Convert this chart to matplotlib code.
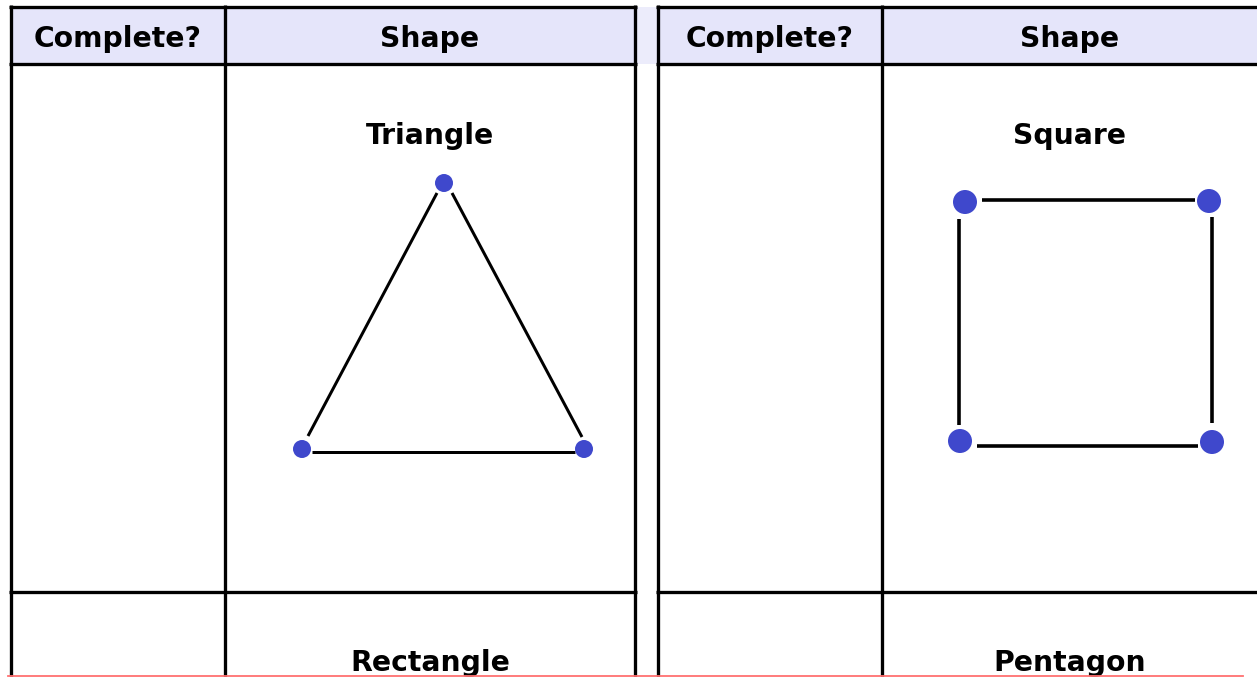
import matplotlib
matplotlib.use("Agg")
import matplotlib.pyplot as plt
from matplotlib.patches import Rectangle, Circle

W, H = 1257, 677
DPI = 100

# ---- content ----
headers = ["Complete?", "Shape"]
shape_names_row1 = ["Triangle", "Square"]
shape_names_row2 = ["Rectangle", "Pentagon"]

# table geometry (pixel space)
table_lefts = [11, 658]
table_dividers = [225, 882]
table_rights = [635, 1262]
top_y, header_y, row_y, bottom_y = 7, 64, 592, 677

# triangle: vertex dots and edge segments (pixels)
tri_dot_x = [444, 302, 584]
tri_dot_y = [183, 449, 449]
tri_edge_x0 = [437, 452, 312]
tri_edge_y0 = [193, 193, 452]
tri_edge_x1 = [308, 582, 575]
tri_edge_y1 = [436, 437, 452]

# square: vertex dots and edge segments (pixels)
sq_dot_x = [965, 1209, 960, 1212]
sq_dot_y = [202, 201, 441, 442]
sq_edge_x0 = [982, 959, 1212, 977]
sq_edge_y0 = [200, 219, 217, 446]
sq_edge_x1 = [1195, 959, 1212, 1198]
sq_edge_y1 = [200, 425, 423, 446]

LINE = "#000000"
HEAD_BG = "#E5E5FA"
GAP_BG = "#ECECFB"
DOT = "#3F48CC"
FONT = ["DejaVu Sans"]
FS = 20.3

fig = plt.figure(figsize=(W / DPI, H / DPI), dpi=DPI)
ax = fig.add_axes([0, 0, 1, 1])
ax.set_xlim(0, W)
ax.set_ylim(H, 0)
ax.axis("off")

lw = 3.3 * 72 / DPI

# header backgrounds
for i in range(2):
    ax.add_patch(Rectangle((table_lefts[i], top_y), table_rights[i] - table_lefts[i],
                           header_y - top_y, facecolor=HEAD_BG, edgecolor="none", zorder=0))
ax.add_patch(Rectangle((table_rights[0], top_y), table_lefts[1] - table_rights[0],
                       header_y - top_y, facecolor=GAP_BG, edgecolor="none", zorder=0))

for i in range(2):
    L, D, R = table_lefts[i], table_dividers[i], table_rights[i]
    for y in (top_y, header_y, row_y):
        ax.plot([L - 1.6, R + 1.6], [y, y], color=LINE, lw=lw, solid_capstyle="butt", zorder=2)
    for x in (L, D, R):
        ax.plot([x, x], [top_y - 1.6, bottom_y], color=LINE, lw=lw, solid_capstyle="butt", zorder=2)
    cx = (D + min(R, W)) / 2
    ax.text((L + D) / 2, 47, headers[0], ha="center", va="baseline",
            fontsize=FS, fontweight="bold", family=FONT, zorder=3)
    ax.text(cx, 47, headers[1], ha="center", va="baseline",
            fontsize=FS, fontweight="bold", family=FONT, zorder=3)
    ax.text(cx, 144, shape_names_row1[i], ha="center", va="baseline",
            fontsize=FS, fontweight="bold", family=FONT, zorder=3)
    ax.text(cx, 671, shape_names_row2[i], ha="center", va="baseline",
            fontsize=FS, fontweight="bold", family=FONT, zorder=3)

for x0, y0, x1, y1 in zip(tri_edge_x0, tri_edge_y0, tri_edge_x1, tri_edge_y1):
    ax.plot([x0, x1], [y0, y1], color=LINE, lw=3.0 * 72 / DPI, solid_capstyle="butt", zorder=4)
for x, y in zip(tri_dot_x, tri_dot_y):
    ax.add_patch(Circle((x, y), 9, facecolor=DOT, edgecolor="none", zorder=5))

for x0, y0, x1, y1 in zip(sq_edge_x0, sq_edge_y0, sq_edge_x1, sq_edge_y1):
    ax.plot([x0, x1], [y0, y1], color=LINE, lw=3.6 * 72 / DPI, solid_capstyle="butt", zorder=4)
for x, y in zip(sq_dot_x, sq_dot_y):
    ax.add_patch(Circle((x, y), 12, facecolor=DOT, edgecolor="none", zorder=5))

# pink bottom rule
ax.plot([8, 1243], [676, 676], color="#FF7070", lw=1.8 * 72 / DPI, zorder=6)

fig.savefig("out.png", dpi=DPI)
